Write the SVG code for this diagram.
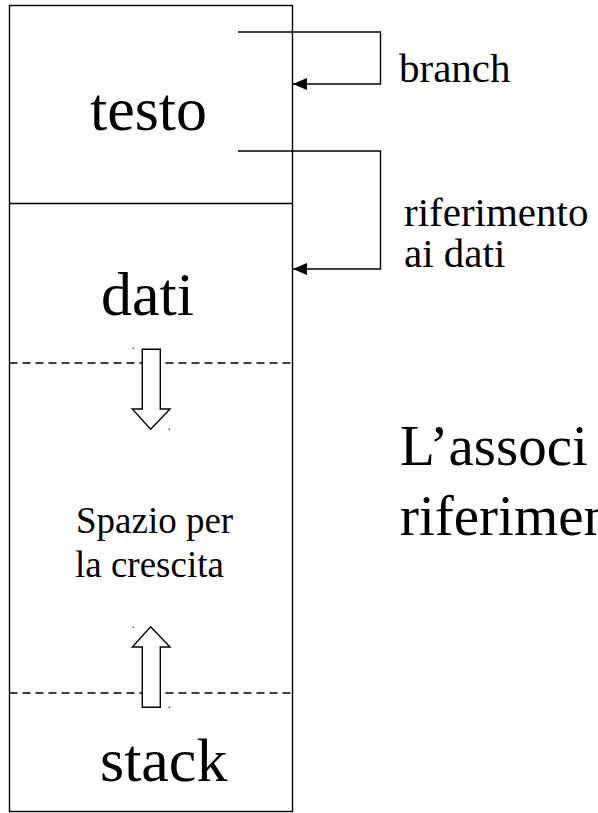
<svg xmlns="http://www.w3.org/2000/svg" width="598" height="813" viewBox="0 0 598 813">
<style>
.ln{stroke:#000;stroke-width:1.4;fill:none}
.dash{stroke:#000;stroke-width:1.4;fill:none;stroke-dasharray:8,5}
.big{font-family:"Liberation Serif",serif;font-size:62px;fill:#000}
.lbl{font-family:"Liberation Serif",serif;font-size:41px;fill:#000}
.mid{font-family:"Liberation Serif",serif;font-size:37px;fill:#000}
.huge{font-family:"Liberation Serif",serif;font-size:57px;fill:#000}
.arr{fill:#fff;stroke:#000;stroke-width:1.4}
.dot{fill:#555}
</style>
<defs>
<marker id="ah" markerWidth="14" markerHeight="12" refX="14" refY="6" orient="auto" markerUnits="userSpaceOnUse">
<path d="M0,0 L14,6 L0,12 Z" fill="#000"/>
</marker>
</defs>
<g id="memory">
<rect class="ln" x="9.5" y="5.5" width="283" height="806"/>
<line class="ln" x1="9.5" y1="203.5" x2="292.5" y2="203.5"/>
<line class="dash" x1="9.5" y1="363" x2="292.5" y2="363"/>
<line class="dash" x1="9.5" y1="693" x2="292.5" y2="693"/>
</g>
<g id="testo"><text class="big" x="90" y="130">testo</text></g>
<g id="dati"><text class="big" x="101" y="315">dati</text></g>
<g id="stack"><text class="big" x="100" y="781">stack</text></g>
<g id="spazio">
<text class="mid" x="76" y="533">Spazio per</text>
<text class="mid" x="75" y="577">la crescita</text>
</g>
<g id="arrow-down">
<path class="arr" d="M142.3,349.3 L160.3,349.3 L160.3,409 L170,409 L150.7,429.3 L132.3,409 L142.3,409 Z"/>
<rect class="dot" x="132.5" y="347.5" width="1.5" height="1.5"/>
<rect class="dot" x="168.5" y="428.5" width="1.5" height="1.5"/>
</g>
<g id="arrow-up">
<path class="arr" d="M142.3,707.3 L160.3,707.3 L160.3,647 L170,647 L150.7,626.7 L132.3,647 L142.3,647 Z"/>
<rect class="dot" x="132.5" y="626.5" width="1.5" height="1.5"/>
<rect class="dot" x="168.5" y="706.5" width="1.5" height="1.5"/>
</g>
<g id="connectors">
<path class="ln" d="M238,32 L380.5,32 L380.5,84 L293,84" marker-end="url(#ah)"/>
<path class="ln" d="M238,151 L380.5,151 L380.5,269 L293,269" marker-end="url(#ah)"/>
</g>
<g id="branch"><text class="lbl" x="399" y="82">branch</text></g>
<g id="riferimento">
<text class="lbl" x="404" y="226">riferimento</text>
<text class="lbl" x="404" y="267">ai dati</text>
</g>
<g id="note">
<text class="huge" x="400" y="465">L’associ</text>
<text class="huge" x="400" y="535">riferimen</text>
</g>
</svg>
